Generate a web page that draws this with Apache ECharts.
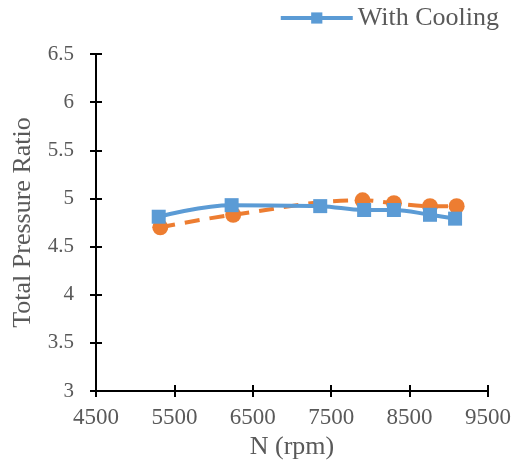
<!DOCTYPE html>
<html>
<head>
<meta charset="utf-8">
<script src="https://cdn.jsdelivr.net/npm/echarts@6/dist/echarts.min.js"></script>
<style>
  html, body { margin: 0; padding: 0; background: #fff; }
  #chart { width: 516px; height: 463px; }
</style>
</head>
<body>
<div id="chart"></div>
<script>
// data
const coolRpm = [5300, 6230, 7360, 7920, 8300, 8760, 9080]
const coolRatio = [4.81, 4.93, 4.92, 4.88, 4.88, 4.83, 4.79]
const noCoolRpm = [5320, 6250, 7900, 8300, 8760, 9100]
const noCoolRatio = [4.70, 4.83, 4.98, 4.95, 4.92, 4.92]

const xMin = 4500, xMax = 9500, xStep = 1000
const yMin = 3, yMax = 6.5, yStep = 0.5

const font = 'Liberation Serif'
const textGray = '#595959'

const pairs = (xs, ys) => xs.map((x, i) => [x, ys[i]])

// fixed plot box, no auto shrinking for the axis names
const gridBox = { left: 96, right: 28, top: 54, bottom: 72, outerBoundsMode: 'none', containLabel: false }
const tickStyle = { color: '#000', width: 2 }

const chart = echarts.init(document.getElementById('chart'))
chart.setOption({
  animation: false,
  textStyle: { fontFamily: font },
  // two identical grids: second one only carries the inner half of the ticks
  grid: [Object.assign({}, gridBox), Object.assign({}, gridBox)],
  legend: {
    data: [{ name: 'With Cooling', lineStyle: { width: 4 } }],
    right: 12, top: 0,
    itemWidth: 72, itemHeight: 14, itemGap: 6,
    textStyle: { fontFamily: font, fontSize: 26, color: textGray }
  },
  xAxis: [
    {
      gridIndex: 0, type: 'value', min: xMin, max: xMax, interval: xStep,
      name: 'N (rpm)', nameLocation: 'middle', nameGap: 40,
      nameTextStyle: { fontFamily: font, fontSize: 26, color: textGray },
      axisLine: { lineStyle: tickStyle },
      axisTick: { inside: false, length: 6, lineStyle: tickStyle },
      axisLabel: { fontFamily: font, fontSize: 23, color: textGray, margin: 15, formatter: v => String(v) },
      splitLine: { show: false }
    },
    {
      gridIndex: 1, type: 'value', min: xMin, max: xMax, interval: xStep,
      axisLine: { lineStyle: tickStyle },
      axisTick: { inside: true, length: 6, lineStyle: tickStyle },
      axisLabel: { show: false },
      splitLine: { show: false }
    }
  ],
  yAxis: [
    {
      gridIndex: 0, type: 'value', min: yMin, max: yMax, interval: yStep,
      name: 'Total Pressure Ratio', nameLocation: 'middle', nameGap: 60,
      nameTextStyle: { fontFamily: font, fontSize: 26, color: textGray },
      axisLine: { lineStyle: tickStyle },
      axisTick: { inside: false, length: 6, lineStyle: tickStyle },
      axisLabel: { fontFamily: font, fontSize: 21, color: textGray, margin: 22 },
      splitLine: { show: false }
    },
    {
      gridIndex: 1, type: 'value', min: yMin, max: yMax, interval: yStep,
      axisLine: { lineStyle: tickStyle },
      axisTick: { inside: true, length: 6, lineStyle: tickStyle },
      axisLabel: { show: false },
      splitLine: { show: false }
    }
  ],
  series: [
    {
      name: 'Without Cooling',
      type: 'line',
      smooth: 0.4,
      data: pairs(noCoolRpm, noCoolRatio),
      symbol: 'circle', symbolSize: 16,
      itemStyle: { color: '#ED7D31' },
      lineStyle: { color: '#ED7D31', width: 4, type: [15, 10] },
      z: 2
    },
    {
      name: 'With Cooling',
      type: 'line',
      smooth: 0.4,
      data: pairs(coolRpm, coolRatio),
      symbol: 'rect', symbolSize: 14,
      itemStyle: { color: '#5B9BD5' },
      lineStyle: { color: '#5B9BD5', width: 4 },
      z: 3
    }
  ]
})
</script>
</body>
</html>
